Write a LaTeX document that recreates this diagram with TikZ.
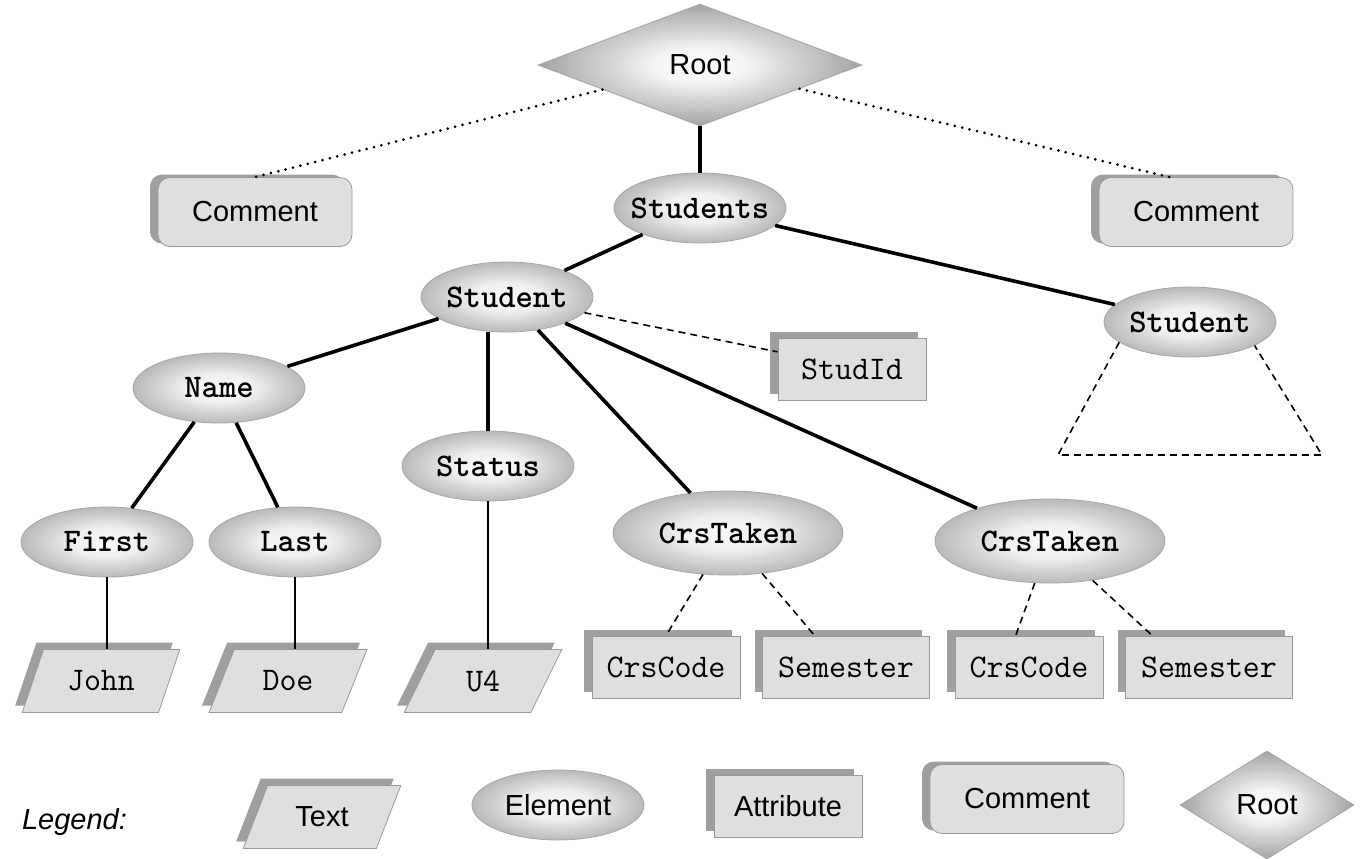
\documentclass[tikz,border=0pt]{standalone}
\usepackage{fontspec}
\setmainfont{Liberation Sans}
\usetikzlibrary{shapes.geometric, shadows}

\newcommand\labelfont{\fontsize{14.5}{17}\selectfont}
\newcommand\elemfont{\ttfamily\bfseries\fontsize{16.5}{19}\selectfont}
\newcommand\valfont{\ttfamily\fontsize{16.5}{19}\selectfont}

\pgfdeclareradialshading{elemshade}{\pgfpoint{0bp}{0bp}}{%
    color(0bp)=(gray!5); color(10bp)=(gray!12); color(25bp)=(gray!55); color(50bp)=(gray!55)}
\pgfdeclareradialshading{rootshade}{\pgfpoint{0bp}{0bp}}{%
    color(0bp)=(gray!2); color(7bp)=(gray!8); color(25bp)=(gray!72); color(50bp)=(gray!72)}

\begin{document}
\begin{tikzpicture}[
    x=0.5pt, y=-0.5pt,
    element/.style={
        ellipse, draw=gray!70, thin,
        shade, shading=elemshade,
        minimum width=86pt, minimum height=35pt,
        inner xsep=-12pt, inner ysep=0pt,
        font=\elemfont
    },
    attribute/.style={
        rectangle, draw=gray!80, thin, fill=gray!25,
        minimum width=74pt, minimum height=31pt,
        drop shadow={shadow xshift=-4pt, shadow yshift=3pt, opacity=1, fill=gray!75},
        font=\valfont
    },
    comment/.style={
        rectangle, rounded corners=6pt, draw=gray!80, thin, fill=gray!25,
        minimum width=97pt, minimum height=34.5pt,
        drop shadow={shadow xshift=-4pt, shadow yshift=1.5pt, opacity=1, fill=gray!75},
        font=\labelfont
    },
    textbox/.style={
        trapezium, trapezium left angle=66, trapezium right angle=114,
        trapezium stretches=true, draw=gray!80, thin, fill=gray!25,
        minimum width=79pt, minimum height=31.5pt,
        drop shadow={shadow xshift=-3.5pt, shadow yshift=3.5pt, opacity=1, fill=gray!75},
        font=\valfont
    },
    rootnode/.style={
        diamond, draw=gray!70, thin,
        shade, shading=rootshade,
        minimum width=162pt, minimum height=61pt,
        font=\labelfont
    },
    link/.style={line width=1.8pt},
    attrlink/.style={line width=0.8pt, dash pattern=on 3.5pt off 2.5pt},
    textlink/.style={line width=0.8pt},
    notelink/.style={line width=1.5pt, line cap=round, dash pattern=on 0pt off 3.8pt}
]
\useasboundingbox (0,0) rectangle (1362,858);

% root and comments
\node[rootnode] (Root) at (700,65) {Root};
\node[comment] (CommentL) at (255,212) {Comment};
\node[comment] (CommentR) at (1196,212) {Comment};

% elements
\node[element] (Students) at (700,208) {Students};
\node[element] (Student1) at (507,297) {Student};
\node[element] (Student2) at (1190,322) {Student};
\node[element] (Name) at (219,388) {Name};
\node[element] (Status) at (488,466) {Status};
\node[element] (First) at (107,542) {First};
\node[element] (Last) at (295,542) {Last};
\node[element, minimum width=115pt, minimum height=42pt] (CrsTaken1) at (728,533) {CrsTaken};
\node[element, minimum width=115pt, minimum height=42pt] (CrsTaken2) at (1050,541) {CrsTaken};

% attributes
\node[attribute] (StudId) at (852,369) {StudId};
\node[attribute] (CrsCode1) at (666,667) {CrsCode};
\node[attribute, minimum width=83.5pt] (Semester1) at (846,667) {Semester};
\node[attribute] (CrsCode2) at (1029,667) {CrsCode};
\node[attribute, minimum width=83.5pt] (Semester2) at (1209,667) {Semester};

% text values
\node[textbox] (John) at (101,681) {John};
\node[textbox] (Doe) at (288,681) {Doe};
\node[textbox] (U4) at (483,681) {U4};

% tree edges
\draw[notelink] (Root) -- (CommentL.north);
\draw[notelink] (Root) -- (CommentR.127);
\draw[link] (Root) -- (Students);
\draw[link] (Students) -- (Student1);
\draw[link] (Students) -- (Student2);
\draw[link] (Student1) -- (Name);
\draw[link] (Student1.south -| Status.north) -- (Status.north);
\draw[link] (Student1) -- (CrsTaken1);
\draw[link] (Student1) -- (CrsTaken2);
\draw[link] (Name) -- (First);
\draw[link] (Name) -- (Last);

% attribute and text edges
\draw[attrlink] (Student1) -- (StudId.167);
\draw[attrlink] (CrsTaken1) -- (CrsCode1.north);
\draw[attrlink] (CrsTaken1) -- (Semester1.135);
\draw[attrlink] (CrsTaken2) -- (CrsCode2.113);
\draw[attrlink] (CrsTaken2) -- (Semester2.151);
\draw[textlink] (First.south) -- (First.south |- John.north);
\draw[textlink] (Last.south) -- (Last.south |- Doe.north);
\draw[textlink] (Status.south) -- (Status.south |- U4.north);

% subtree of the second student
\coordinate (TreeL) at (1058,455);
\coordinate (TreeR) at (1322,455);
\draw[attrlink] (Student2.196) -- (TreeL) -- (TreeR) -- (Student2.340);

% legend
\node[anchor=west, font=\labelfont\itshape] (Legend) at (15,822) {Legend:};
\node[textbox, font=\labelfont] (LegText) at (322,817) {Text};
\node[element, font=\labelfont] (LegElement) at (558,805) {Element};
\node[attribute, font=\labelfont] (LegAttr) at (788,806) {Attribute};
\node[comment] (LegComment) at (1027,799) {Comment};
\node[rootnode, minimum width=87pt, minimum height=51.5pt] (LegRoot) at (1267,805) {Root};
\end{tikzpicture}
\end{document}
